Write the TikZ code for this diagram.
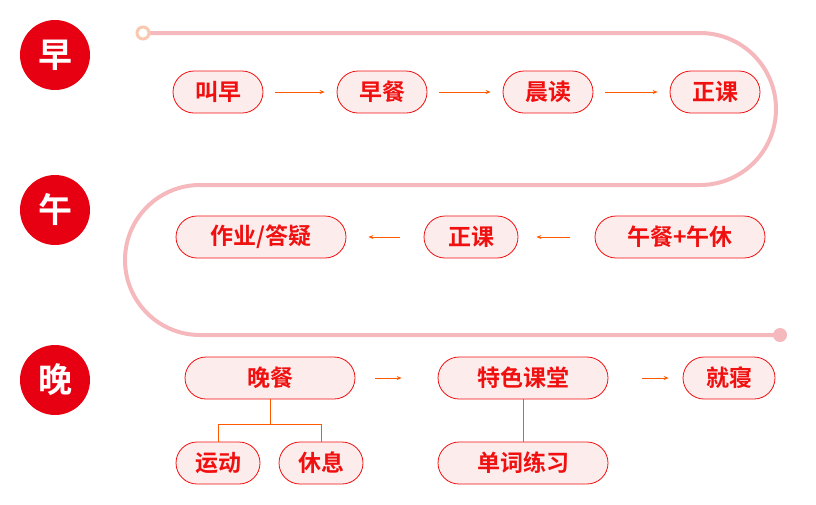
\documentclass[tikz,border=0pt]{standalone}
\usepackage{fontspec}
\setmainfont{Noto Sans CJK SC}[BoldFont={* Bold}]
\usetikzlibrary{positioning,arrows.meta}
\definecolor{deepred}{HTML}{E60012}
\definecolor{txtred}{HTML}{F01010}
\definecolor{softfill}{HTML}{FDECEC}
\definecolor{track}{HTML}{F5B8BC}
\definecolor{peach}{HTML}{F8C8B0}
\tikzset{
  period/.style = {circle, fill=deepred, minimum size=70pt, inner sep=0pt,
    text=white, font=\bfseries\fontsize{34}{34}\selectfont},
  stage/.style = {rounded corners=21pt, draw=txtred, fill=softfill, line width=0.8pt,
    minimum height=42pt, text=txtred, font=\bfseries\fontsize{23}{23}\selectfont},
  flow/.style = {-{Stealth[length=5pt,width=4pt]}, draw=orange!70!red, line width=0.7pt},
  branch/.style = {draw=orange!70!red, line width=0.6pt}
}
\begin{document}
\begin{tikzpicture}[x=1pt,y=-1pt]
  \useasboundingbox (0,0) rectangle (816,504);

  % track
  \draw[track, line width=4pt] (143,33) -- (700,33) arc[start angle=-90, end angle=90, radius=76]
    -- (200,185) arc[start angle=270, end angle=90, radius=75] -- (780,335);
  \draw[peach, line width=3pt, fill=white] (143,33) circle[radius=6];
  \fill[track] (780,335) circle[radius=7];

  % periods
  \node[period] (morning) at (55,55) {早};
  \node[period] (noon) at (55,210) {午};
  \node[period] (evening) at (55,380) {晚};

  % morning row
  \node[stage, minimum width=90pt] (call) at (218,92) {叫早};
  \node[stage, minimum width=90pt] (breakfast) at (382,92) {早餐};
  \node[stage, minimum width=90pt] (reading) at (548,92) {晨读};
  \node[stage, minimum width=90pt] (classam) at (715,92) {正课};
  \draw[flow] ([xshift=12pt]call.east) -- ([xshift=-12pt]breakfast.west);
  \draw[flow] ([xshift=12pt]breakfast.east) -- ([xshift=-12pt]reading.west);
  \draw[flow] ([xshift=12pt]reading.east) -- ([xshift=-12pt]classam.west);

  % noon row
  \node[stage, minimum width=170pt] (homework) at (261,237) {作业/答疑};
  \node[stage, minimum width=94pt] (classpm) at (471,237) {正课};
  \node[stage, minimum width=170pt] (lunch) at (680,237) {午餐+午休};
  \draw[flow] ([xshift=-25pt]lunch.west) -- ([xshift=18pt]classpm.east);
  \draw[flow] ([xshift=-24pt]classpm.west) -- ([xshift=22pt]homework.east);

  % evening row
  \node[stage, minimum width=170pt] (dinner) at (270,378) {晚餐};
  \node[stage, minimum width=170pt] (special) at (523,378) {特色课堂};
  \node[stage, minimum width=92pt] (sleep) at (729,378) {就寝};
  \draw[flow] ([xshift=20pt]dinner.east) -- ([xshift=-36pt]special.west);
  \draw[flow] ([xshift=34pt]special.east) -- ([xshift=-14pt]sleep.west);

  % sub stages
  \node[stage, minimum width=84pt] (sport) at (218,463) {运动};
  \node[stage, minimum width=84pt] (rest) at (321,463) {休息};
  \node[stage, minimum width=170pt] (words) at (523,463) {单词练习};
  \draw[branch] (dinner.south) -- ++(0,25) coordinate (fork);
  \draw[branch] (sport.north) -- (sport.north |- fork) -- (rest.north |- fork) -- (rest.north);
  \draw[branch] (special.south) -- (words.north);
\end{tikzpicture}
\end{document}
